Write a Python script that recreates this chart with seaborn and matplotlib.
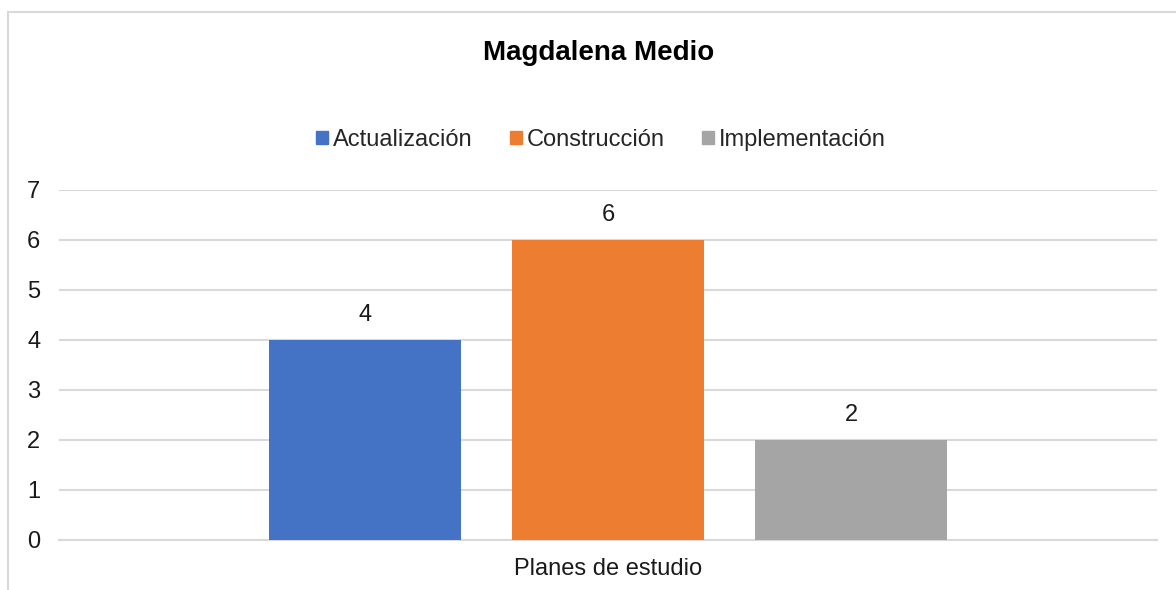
import matplotlib
matplotlib.use("Agg")
import matplotlib.pyplot as plt
from matplotlib.patches import Rectangle
from matplotlib.transforms import ScaledTranslation
import pandas as pd
import seaborn as sns

# Chart values
category = ["Planes de estudio"]
series = ["Actualización", "Construcción", "Implementación"]
values = [4, 6, 2]
colors = ["#4472C4", "#ED7D31", "#A5A5A5"]
yticks = [0, 1, 2, 3, 4, 5, 6, 7]

df = pd.DataFrame({
    "categoria": category * len(series),
    "serie": series,
    "valor": values,
})

sns.set_theme(style="white")
plt.rcParams["font.family"] = ["Liberation Sans", "DejaVu Sans"]

fig = plt.figure(figsize=(11.76, 5.90), dpi=100)
ax = fig.add_axes([59 / 1176, 1 - 540 / 590, 1098 / 1176, 350 / 590])

sns.barplot(data=df, x="categoria", y="valor", hue="serie", hue_order=series,
            palette=colors, width=0.664, gap=0.21, saturation=1,
            legend=False, ax=ax, zorder=3, linewidth=0)

# Data labels above bars
for cont in ax.containers:
    ax.bar_label(cont, padding=10, fontsize=17, color="#1a1a1a")

ax.set_ylim(0, 7)
ax.set_xlim(-0.5, 0.5)
ax.set_yticks(yticks)
ax.yaxis.grid(True, color="#d9d9d9", linewidth=1.5, zorder=0)
ax.set_axisbelow(True)
for s in ["top", "right", "left"]:
    ax.spines[s].set_visible(False)
ax.spines["bottom"].set_color("#d9d9d9")
ax.spines["bottom"].set_linewidth(1.5)
ax.tick_params(axis="both", length=0, labelsize=17, colors="#1a1a1a")
ax.tick_params(axis="x", pad=13)
ax.tick_params(axis="y", pad=0)
ax.set_xlabel("")
ax.set_ylabel("")

# Y labels left-aligned near the chart edge
offset = ScaledTranslation(-32 / 100, 0, fig.dpi_scale_trans)
for lbl in ax.get_yticklabels():
    lbl.set_horizontalalignment("left")
    lbl.set_transform(lbl.get_transform() + offset)

# Title and legend
fig.text(599 / 1176, 1 - 53 / 590, "Magdalena Medio", ha="center", va="center",
         fontsize=20, fontweight="bold", color="#000000")
handles = [Rectangle((0, 0), 1, 1, color=c) for c in colors]
fig.legend(handles, series, loc="center", bbox_to_anchor=(601 / 1176, 1 - 140 / 590),
           ncol=3, frameon=False, fontsize=17, handlelength=0.5, handleheight=0.5,
           handletextpad=0.2, columnspacing=1.6)

# Chart area border (top and left visible)
fig.patches.append(Rectangle((8 / 1176, -0.1), 1.2, 1 - 12 / 590 + 0.1,
                             transform=fig.transFigure, fill=False,
                             edgecolor="#d9d9d9", linewidth=1.5))

fig.savefig("out.png", dpi=100, facecolor="white")
